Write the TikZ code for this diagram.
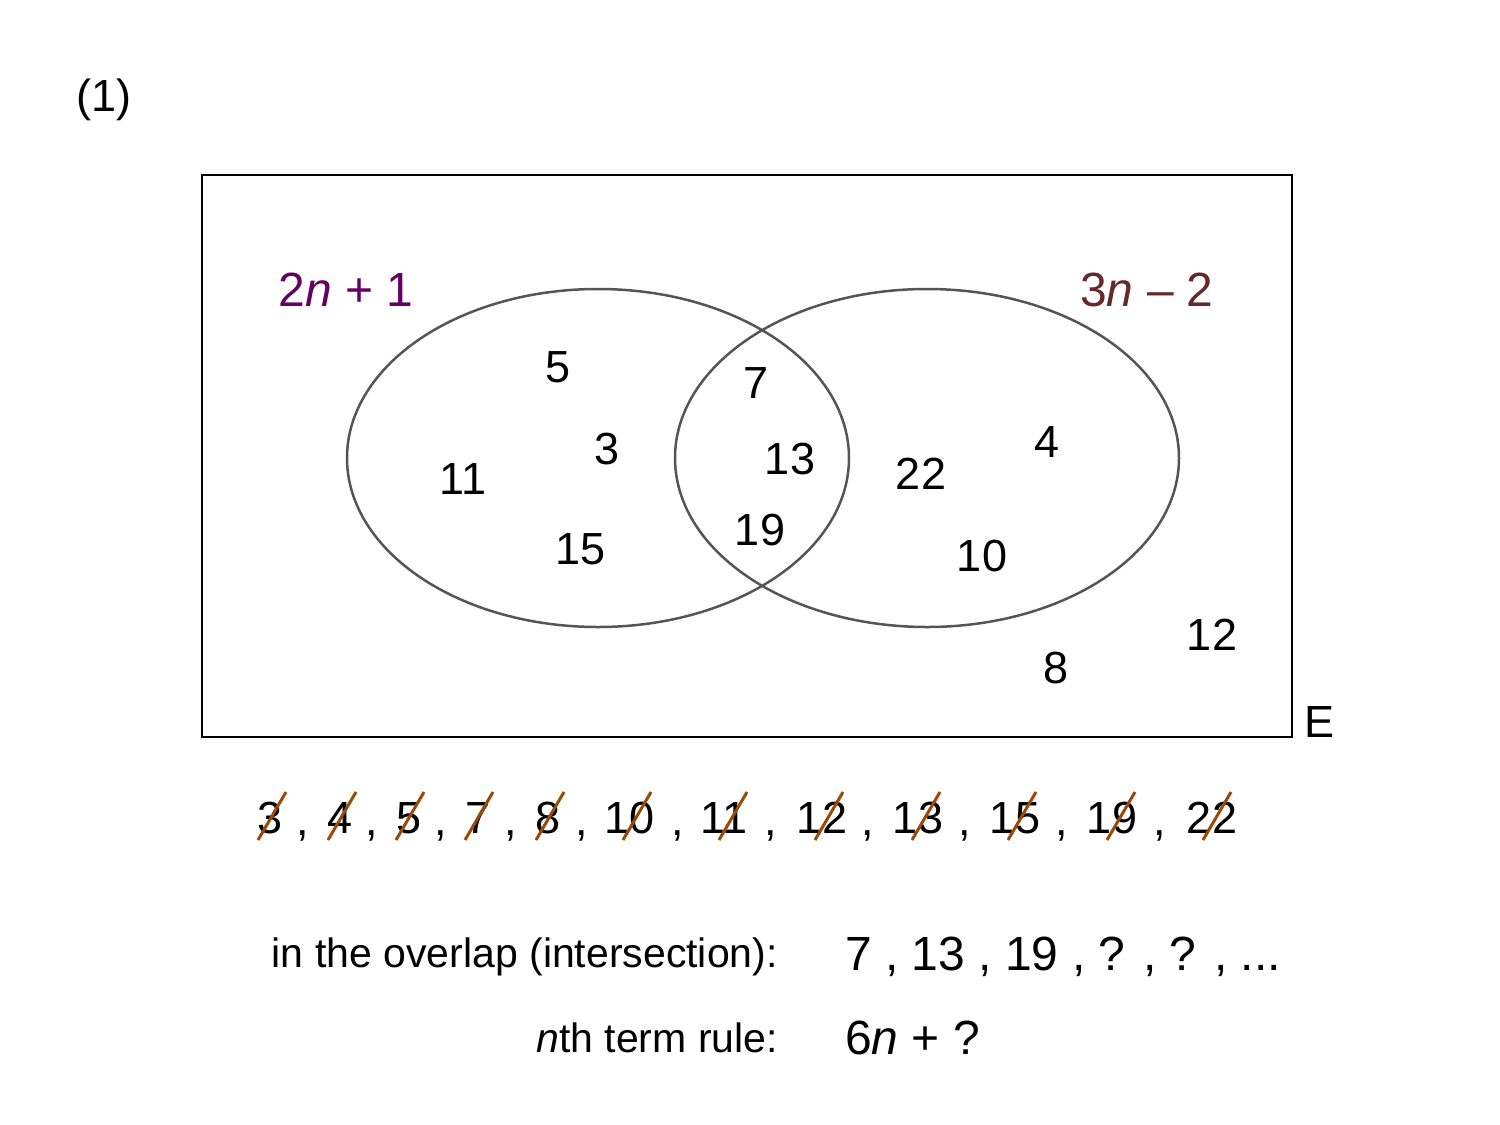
\documentclass[tikz,border=0pt]{standalone}
\usepackage{fontspec}
\setmainfont{Liberation Sans}
\definecolor{purp}{HTML}{660066}
\definecolor{brn}{HTML}{662828}
\definecolor{slash}{HTML}{9A4A08}
\definecolor{edge}{HTML}{555555}
\begin{document}
\begin{tikzpicture}[x=1pt,y=-1pt,
  num/.style={inner sep=0pt,font=\fontsize{45}{50}\selectfont},
  big/.style={inner sep=0pt,font=\fontsize{48}{52}\selectfont},
  sm/.style={inner sep=0pt,font=\fontsize{41}{46}\selectfont},
  cross/.style={draw=slash,line width=3pt}]
\useasboundingbox (0,0) rectangle (1500,1125);
\node[num] (lab) at (104,100) {(1)};
\draw[line width=2pt] (202,175) rectangle (1292,737);
\node[num,anchor=west] (E) at (1304,722) {E};
\draw[edge,line width=2.5pt] (598,458) ellipse [x radius=251,y radius=169];
\draw[edge,line width=2.5pt] (927,458) ellipse [x radius=252,y radius=169];
\node[big,purp] (A) at (346,290) {2\textit{n} + 1};
\node[big,brn] (B) at (1147,290) {3\textit{n} – 2};
\foreach \n/\x/\y in {5/558/367,3/607/449,11/463/479,15/581/549,7/756/383,13/790/459,19/760/530,22/921/474,4/1047/442,10/982/556,12/1212/635,8/1056/668}
  \node[num] (v\n) at (\x,\y) {\n};
\foreach \n/\x/\s in {3/270/272,4/340/342,5/409/410,7/478/479,8/548/550,10/630/637,11/724/733,12/822/829,13/918/926,15/1015/1022,19/1112/1121,22/1212/1217}{
  \node[num] (r\n) at (\x,818) {\n};
  \coordinate (s\n) at (\s,816);
  \draw[cross] (s\n)+(-14,24) -- +(14,-24);
}
\foreach \x in {303,372,441,511,582,678,771,868,965,1062,1160}
  \node[num,anchor=base] at (\x,835) {,};
\node[sm,anchor=east] (ov) at (778,957) {in the overlap (intersection):};
\node[big,anchor=west] (ovs) at (845,957) {7 , 13 , 19 , ? , ? , ...};
\node[sm,anchor=east] (nt) at (778,1038) {\textit{n}th term rule:};
\node[big,anchor=west] (nts) at (845,1038) {6\textit{n} + ?};
\end{tikzpicture}
\end{document}
